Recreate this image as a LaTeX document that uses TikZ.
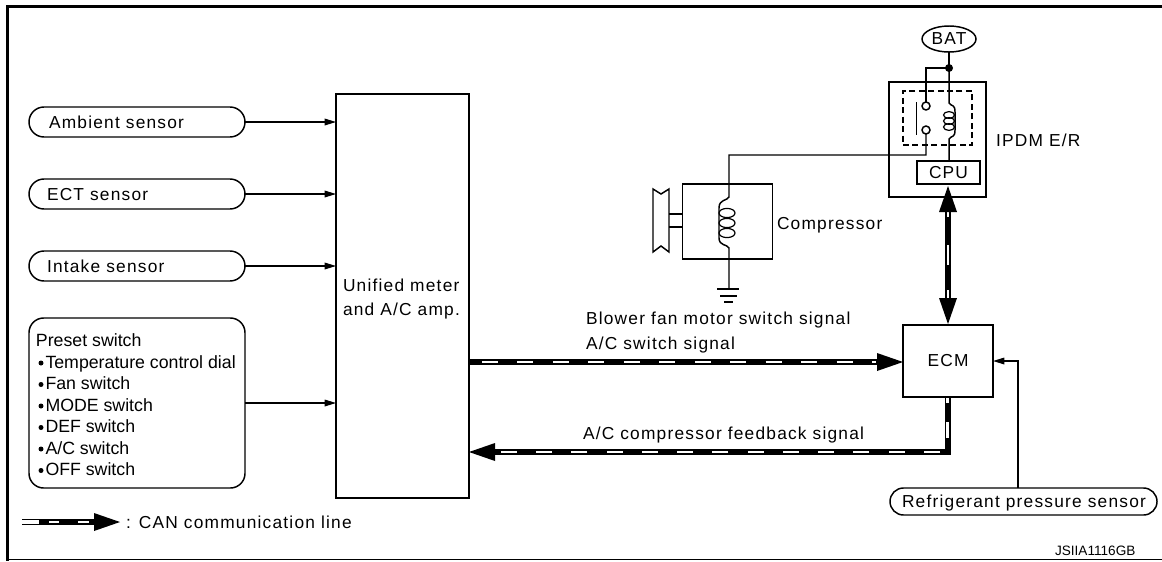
\documentclass[tikz,border=0pt]{standalone}
\usepackage{fontspec}
\setmainfont{Liberation Sans}
\usetikzlibrary{arrows.meta,shapes.misc,shapes.geometric,calc}
\def\px{0.75pt}
\tikzset{
  x=0.75pt,y=-0.75pt,
  every node/.style={font=\fontsize{13pt}{16pt}\selectfont,inner sep=0pt,outer sep=0pt},
  wire/.style={line width=1.1pt,black},
  pill/.style={draw,line width=1.1pt,rounded rectangle,minimum width=216*\px,minimum height=30*\px},
  lbl/.style={anchor=base west},
  sig/.style={line width=0.9pt,black,-{Triangle[length=8.5pt,width=5pt]}},
  canblack/.style={line width=4.5pt,black,line cap=butt,line join=miter},
  canwhite/.style={line width=2.2pt,white,dash pattern=on 12pt off 14.6pt},
}
\newcommand{\headtip}[3]{%
  \fill[black] (#1) -- ++({-26*(#2)+9*(#3)},{-26*(#3)+9*(#2)}) -- ++({-18*(#3)},{-18*(#2)}) -- cycle;}
\newcommand{\spaced}[1]{\addfontfeature{LetterSpace=7}#1}
\begin{document}
\begin{tikzpicture}
\useasboundingbox (0,0) rectangle (1162,561);
% frame
\coordinate (ftl) at (7.5,6.5);
\coordinate (ftr) at (1162,6.5);
\coordinate (fbl) at (7.5,559.5);
\coordinate (fbr) at (1162,559.5);
\draw[line width=2.4pt,line cap=rect] (ftr) -- (ftl) -- (fbl);
\draw[line width=1.1pt] (fbl) -- (fbr);

% left sensors
\node[pill] (amb) at (137,122) {};
\node[pill] (ect) at (137,194) {};
\node[pill] (int) at (137,266) {};
\node[lbl] at (49,128) {\spaced{Ambient sensor}};
\node[lbl] at (47,200) {\spaced{ECT sensor}};
\node[lbl] at (47,272) {\spaced{Intake sensor}};
\node[draw,line width=1.1pt,rounded corners=11pt,minimum width=216*\px,minimum height=170*\px] (pre) at (137,403) {};
\node[lbl,font=\fontsize{13.3pt}{16pt}\selectfont] at (36,346) {Preset switch};
\foreach \yy/\tt in {368/{Temperature control dial},389.5/{Fan switch},411/{MODE switch},432.5/{DEF switch},454/{A/C switch},475.5/{OFF switch}}{
  \node[lbl,font=\fontsize{13.3pt}{16pt}\selectfont] at (45.5,\yy) {\tt};
  \fill (41,\yy-5) circle (2.5);
}
% main box
\node[draw,line width=1.1pt,minimum width=133*\px,minimum height=404*\px] (main) at (402.5,296) {};
\node[lbl] at (343,291) {\spaced{Unified meter}};
\node[lbl] at (343,315) {\spaced{and A/C amp.}};
\draw[sig] (amb.east) -- (amb.east -| main.west);
\draw[sig] (ect.east) -- (ect.east -| main.west);
\draw[sig] (int.east) -- (int.east -| main.west);
\draw[sig] (pre.east) -- (pre.east -| main.west);

% ECM
\node[draw,line width=1.1pt,minimum width=90*\px,minimum height=72*\px] (ecm) at (948,361) {\spaced{ECM}};
\coordinate (can1s) at (main.east |- 0,362);
\coordinate (can1t) at (ecm.west |- 0,362);
\draw[canblack] (can1s) -- ($(can1t)+(-20,0)$);
\draw[canwhite] ($(can1s)+(13,0)$) -- ($(can1t)+(-27,0)$);
\headtip{can1t}{1}{0}
% feedback
\coordinate (can2c) at (947.5,452);
\coordinate (can2t) at (main.east |- can2c);
\coordinate (can2d) at (ecm.south -| can2c);
\draw[canblack] (can2d) -- (can2c) -- ($(can2t)+(20,0)$);
\draw[canwhite,dash pattern=on 12pt off 14.45pt] (940,452) -- (497,452);
\draw[canwhite,dash pattern=on 11.8pt off 20pt] (947.5,438) -- (947.5,422);
\draw[canwhite,dash pattern=on 4pt off 4pt] (947.5,403) -- (947.5,398);
\headtip{can2t}{-1}{0}
% refrigerant
\node[pill,minimum width=267*\px,minimum height=27*\px] (ref) at (1023.5,501.5) {};
\node[lbl] at (902,507.5) {\spaced{Refrigerant pressure sensor}};
\coordinate (refup) at (1018,361);
\draw[sig] (ref.north -| refup) -- (refup) -- (ecm.east |- refup);

% text labels
\node[lbl] at (586,324) {\spaced{Blower fan motor switch signal}};
\node[lbl] at (586,349) {\spaced{A/C switch signal}};
\node[lbl] at (583,439) {\spaced{A/C compressor feedback signal}};

% IPDM
\node[draw,line width=1.1pt,minimum width=97*\px,minimum height=115*\px] (ipdm) at (937.5,139.5) {};
\node[lbl] at (996,146) {\spaced{IPDM E/R}};
\node[draw,line width=1.1pt,minimum width=63*\px,minimum height=23*\px,fill=white] (cpu) at (948.5,172.5) {\spaced{CPU}};
\node[draw,line width=1.1pt,dashed,dash pattern=on 4.5pt off 2.6pt,minimum width=69*\px,minimum height=54*\px] (relay) at (937.5,118) {};
\node[draw,line width=1.1pt,ellipse,minimum width=54*\px,minimum height=26*\px] (bat) at (949,39) {\spaced{BAT}};
\coordinate (jun) at (949,68);
\fill (jun) circle (4);
\node[draw,line width=1.1pt,circle,minimum size=8*\px] (c1) at (926,106) {};
\node[draw,line width=1.1pt,circle,minimum size=8*\px] (c2) at (926,130) {};
\draw[wire] (916.5,102) -- (916.5,135);
\draw[wire] (bat.south) -- (jun) -- (jun -| c1) -- (c1.north);
% relay coil
\coordinate (rct) at (949,103);
\coordinate (rcb) at (949,139);
\draw[wire] (jun) -- (rct) .. controls (952,107) and (955,104) .. (955,112) -- (955,130) .. controls (955,138) and (952,135) .. (rcb) -- (cpu.north -| rcb);
\foreach \yy in {115,121,127}{\draw[line width=0.9pt] (949,\yy) ellipse (5.5 and 3.4);}
% compressor
\node[draw,line width=1.1pt,minimum width=90*\px,minimum height=75*\px] (comp) at (727.5,221.5) {};
\node[lbl] at (777,229) {\spaced{Compressor}};
\coordinate (cct) at (729,197);
\coordinate (ccb) at (729,248);
\draw[wire] (c2.south) -- (926,155) -- (729,155) -- (cct) .. controls (727,201) and (719,199) .. (719,208) -- (719,238) .. controls (719,246) and (727,244) .. (ccb) -- (729,289);
\foreach \yy in {213,223,233}{\draw[line width=0.9pt] (727,\yy) ellipse (8 and 4.6);}
\draw[wire] (717,289) -- (739,289);
\draw[wire] (720,296) -- (737,296);
\draw[wire] (724,302) -- (733,302);
% pulley
\draw[wire] (653,189) -- (661,194) -- (669,189) -- (669,252) -- (661,246) -- (653,252) -- cycle;
\draw[wire] (669,214) -- (683,214) (669,227) -- (683,227);

% bidirectional CAN
\draw[canblack] (948,206) -- (948,302);
\draw[canwhite,dash pattern=on 5.25pt off 21pt on 15pt off 18.75pt on 6pt off 30pt] (948,210) -- (948,298);
\headtip{948,186}{0}{-1}
\headtip{948,324}{0}{1}

% legend
\coordinate (lega) at (22,522);
\coordinate (legt) at (120,522);
\draw[canblack] (39,522) -- (97,522);
\draw[line width=0.8pt] (22,519.5) -- (39,519.5) (22,524.5) -- (39,524.5);
\draw[canwhite,dash pattern=on 7.5pt off 14.25pt on 8.25pt off 30pt] (49,522) -- (95,522);
\headtip{legt}{1}{0}
\node[lbl] at (126,528) {\spaced{: CAN communication line}};
\node[lbl,font=\fontsize{10.2pt}{12pt}\selectfont] at (1055,555) {JSIIA1116GB};
\end{tikzpicture}
\end{document}
